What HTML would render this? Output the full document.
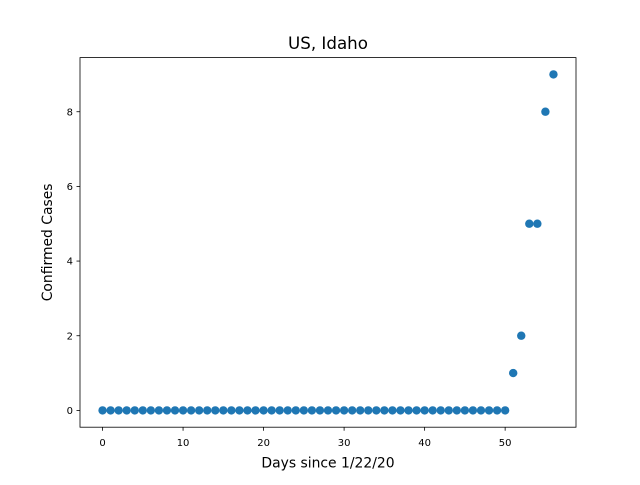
<!DOCTYPE html>
<html><head><meta charset="utf-8"><style>
body{margin:0;background:#fff;}
svg text{font-family:"DejaVu Sans","Liberation Sans",sans-serif;fill:#000;}
</style></head><body>
<svg id="chart" width="640" height="480" xmlns="http://www.w3.org/2000/svg">
<rect width="640" height="480" fill="#fff"/>
<text x="328" y="49" font-size="16.7" text-anchor="middle">US, Idaho</text>
<g id="ticks"></g>
<g id="points"></g>
<rect x="80" y="57.6" width="496" height="369.6" fill="none" stroke="#000" stroke-width="0.8"/>
<text x="328" y="467.5" font-size="13.9" text-anchor="middle">Days since 1/22/20</text>
<text transform="translate(52,242.4) rotate(-90)" font-size="13.9" text-anchor="middle">Confirmed Cases</text>
</svg>
<script>
const days = Array.from({length:57},(_,i)=>i);
const cases = [0,0,0,0,0,0,0,0,0,0,0,0,0,0,0,0,0,0,0,0,0,0,0,0,0,0,0,0,0,0,0,0,0,0,0,0,0,0,0,0,0,0,0,0,0,0,0,0,0,0,0,1,2,5,5,8,9];
const xTicks = [0,10,20,30,40,50];
const yTicks = [0,2,4,6,8];
const NS="http://www.w3.org/2000/svg";
const L=80,R=576,T=57.6,B=427.2;
const x0=-2.8,x1=58.8,y0=-0.45,y1=9.45;
const sx=v=>L+(v-x0)/(x1-x0)*(R-L);
const sy=v=>B-(v-y0)/(y1-y0)*(B-T);
const tg=document.getElementById('ticks'), pg=document.getElementById('points');
function mk(tag,a){const e=document.createElementNS(NS,tag);for(const k in a)e.setAttribute(k,a[k]);return e;}
xTicks.forEach(t=>{
  const l=mk('line',{x1:sx(t),x2:sx(t),y1:B,y2:B+3.5,stroke:'#000','stroke-width':0.8});
  
  
  tg.appendChild(l);
  const tx=mk('text',{x:sx(t),y:446,'font-size':10,'text-anchor':'middle'});
  tx.textContent=t;
  
  
  tg.appendChild(tx);
});
yTicks.forEach(t=>{
  const l=mk('line',{x1:L-3.5,x2:L,y1:sy(t),y2:sy(t),stroke:'#000','stroke-width':0.8});
  
  
  tg.appendChild(l);
  const tx=mk('text',{x:L-7,y:sy(t)+3.6,'font-size':10,'text-anchor':'end'});
  tx.textContent=t;
  
  
  tg.appendChild(tx);
});
days.forEach((d,i)=>{
  const c=mk('circle',{cx:sx(d),cy:sy(cases[i]),r:4.2,fill:'#1f77b4'});
  
  
  pg.appendChild(c);
});
</script>
</body></html>
